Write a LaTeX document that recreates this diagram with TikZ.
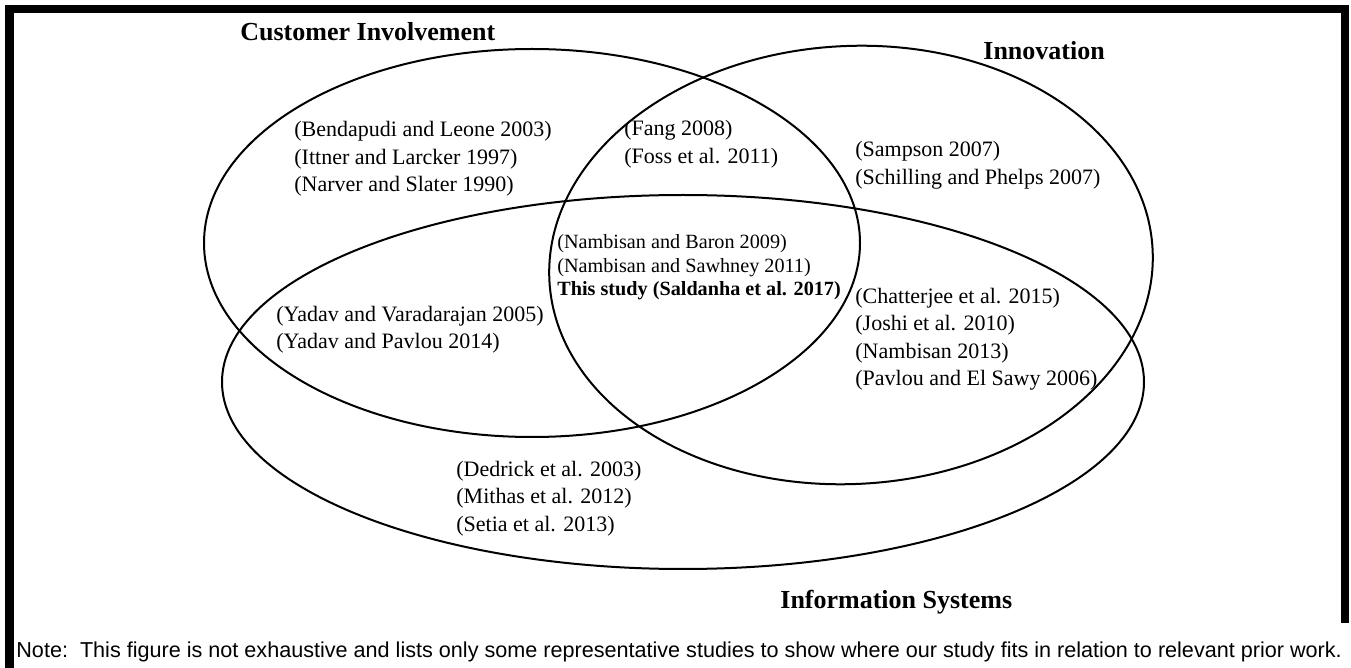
\documentclass[tikz,border=0pt]{standalone}
\usepackage{fontspec}
\setmainfont{Liberation Serif}
\newfontfamily\notefont{Liberation Sans}
\begin{document}
\begin{tikzpicture}[x=0.5pt,y=-0.5pt,
    ring/.style={draw, line width=1pt},
    refs/.style={font=\fontsize{11}{13.75}\selectfont, align=left, anchor=base west, inner sep=0pt},
    settitle/.style={font=\fontsize{13}{15}\selectfont\bfseries, anchor=base west, inner sep=0pt}]
        \useasboundingbox (0,0) rectangle (1351,668);

        % frame
        \draw[line width=4.25pt, line join=miter] (9.5,668) -- (9.5,9) -- (1345,9) -- (1345,623);

        % the three sets
        \draw[ring] (532,243) ellipse [x radius=328, y radius=194];
        \draw[ring, rotate around={3:(851,265)}] (851,265) ellipse [x radius=302, y radius=219];
        \draw[ring] (683,382) ellipse [x radius=461, y radius=187];

        \node[settitle] (ciTitle) at (240,41) {Customer Involvement};
        \node[settitle] (innTitle) at (983,60) {Innovation};
        \node[settitle] (isTitle) at (780,608) {Information Systems};

        % refs nodes sit on the baseline of their last line
        \node[refs] (ciRefs) at (294,192) {(Bendapudi and Leone 2003)\\(Ittner and Larcker 1997)\\(Narver and Slater 1990)};
        \node[refs] (ciInnRefs) at (624,163.5) {(Fang 2008)\\(Foss et al. 2011)};
        \node[refs] (innRefs) at (855,184.5) {(Sampson 2007)\\(Schilling and Phelps 2007)};
        \node[refs, font=\fontsize{10.1}{11.75}\selectfont] (allRefs) at (557,296) {(Nambisan and Baron 2009)\\(Nambisan and Sawhney 2011)\\\textbf{This study (Saldanha et al. 2017)}};
        \node[refs] (ciIsRefs) at (276,349) {(Yadav and Varadarajan 2005)\\(Yadav and Pavlou 2014)};
        \node[refs] (innIsRefs) at (855,386) {(Chatterjee et al. 2015)\\(Joshi et al. 2010)\\(Nambisan 2013)\\(Pavlou and El Sawy 2006)};
        \node[refs] (isRefs) at (456,531) {(Dedrick et al. 2003)\\(Mithas et al. 2012)\\(Setia et al. 2013)};

        \node[anchor=base west, inner sep=0pt, font=\notefont\fontsize{10.8}{13}\selectfont] (note) at (16,657) {Note:\ \ This figure is not exhaustive and lists only some representative studies to show where our study fits in relation to relevant prior work.};
\end{tikzpicture}
\end{document}
